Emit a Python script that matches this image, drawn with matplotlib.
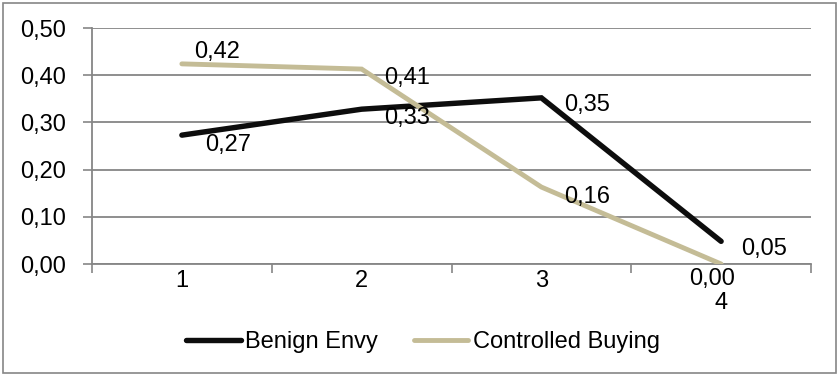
import matplotlib.pyplot as plt
from matplotlib.patches import Rectangle
from matplotlib.lines import Line2D
from matplotlib.ticker import FuncFormatter, FixedLocator

plt.rcParams['font.family'] = ['Liberation Sans', 'DejaVu Sans']

# --------------------------------
# Data
# --------------------------------
categories = [1, 2, 3, 4]
benign_envy = [0.273, 0.328, 0.352, 0.048]
controlled_buying = [0.424, 0.413, 0.163, 0.0]

# label offsets (pixels) relative to each point
benign_offsets = [(46, -10), (45, -9), (46, -7), (43, -8)]
controlled_offsets = [(35, 12), (45, -9), (46, -10), (-9, -15)]

black = "#0d0d0d"
tan = "#c4bc96"
grid_c = "#868686"
fs = 17

# --------------------------------
# Plot
# --------------------------------
fig = plt.figure(figsize=(8.39, 3.76), dpi=100)
ax = fig.add_axes([92 / 839, 112 / 376, 719 / 839, 236 / 376])

ax.plot(categories, benign_envy, color=black, linewidth=3.9, solid_capstyle='round',
        solid_joinstyle='miter', zorder=3)
ax.plot(categories, controlled_buying, color=tan, linewidth=3.5, solid_capstyle='round',
        solid_joinstyle='miter', zorder=3)

fmt = lambda v: f"{v:.2f}".replace('.', ',')
for x, y, off in zip(categories, benign_envy, benign_offsets):
    ax.annotate(fmt(y), (x, y), xytext=off, textcoords='offset pixels',
                ha='center', va='center', fontsize=fs, zorder=4)
for x, y, off in zip(categories, controlled_buying, controlled_offsets):
    ax.annotate(fmt(y), (x, y), xytext=off, textcoords='offset pixels',
                ha='center', va='center', fontsize=fs, zorder=4)

ax.set_xlim(0.5, 4.5)
ax.set_ylim(0, 0.5)

ax.set_yticks([0, 0.1, 0.2, 0.3, 0.4, 0.5])
ax.yaxis.set_major_formatter(FuncFormatter(lambda v, p: fmt(v)))
ax.tick_params(axis='y', length=6.5, width=1.2, color=grid_c, labelsize=fs, pad=12)

ax.xaxis.set_major_locator(FixedLocator([0.5, 1.5, 2.5, 3.5, 4.5]))
ax.xaxis.set_minor_locator(FixedLocator(categories))
ax.xaxis.set_major_formatter(FuncFormatter(lambda v, p: ""))
ax.xaxis.set_minor_formatter(FuncFormatter(lambda v, p: str(int(round(v)))))
ax.tick_params(axis='x', which='major', length=6.5, width=1.2, color=grid_c)
ax.tick_params(axis='x', which='minor', length=0, labelsize=fs, pad=4)
# the last category label is pushed down below the "0,00" data label
ax.xaxis.get_minor_ticks()[3].set_pad(20)

ax.grid(axis='y', color=grid_c, linewidth=1.3, zorder=0)
ax.set_axisbelow(True)
for s in ['top', 'right']:
    ax.spines[s].set_visible(False)
for s in ['left', 'bottom']:
    ax.spines[s].set_color(grid_c)
    ax.spines[s].set_linewidth(1.3)

handles = [Line2D([], [], color=black, linewidth=3.9, solid_capstyle='round'),
           Line2D([], [], color=tan, linewidth=3.5, solid_capstyle='round')]
fig.legend(handles, ["Benign Envy", "Controlled Buying"], loc='center',
           bbox_to_anchor=(423 / 839, 1 - 342 / 376), ncol=2, frameon=False,
           fontsize=fs, handlelength=2.3, handletextpad=0.2, columnspacing=1.5)

fig.patches.append(Rectangle((3 / 839, 3 / 376), 833 / 839, 370 / 376,
                             transform=fig.transFigure, fill=False,
                             edgecolor=grid_c, linewidth=1.2))

fig.savefig("out.png", dpi=100)
